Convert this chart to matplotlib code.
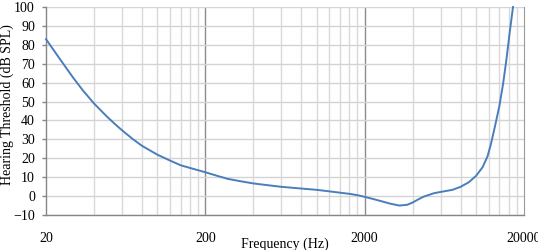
import matplotlib.pyplot as plt
from matplotlib.ticker import FixedLocator, NullFormatter

# hearing threshold curve
freq = [20, 24.3, 29.5, 34, 40, 47.9, 54, 60, 70, 80, 100, 120, 140, 160, 180,
        200, 240, 277, 330, 400, 500, 600, 800, 1000, 1200, 1400, 1600, 1800,
        2000, 2250, 2520, 2890, 3300, 3700, 4000, 4350, 4690, 5430, 6000, 7100,
        8000, 9000, 10000, 11000, 11800, 12400, 13100, 14000, 14800, 15500,
        16240, 17060]
threshold = [83.0, 72.8, 62.8, 56.0, 49.0, 42.3, 38.2, 34.8, 30.2, 26.6, 21.9,
             18.8, 16.3, 14.9, 13.7, 12.6, 10.6, 9.1, 7.9, 6.7, 5.7, 4.9, 4.0,
             3.3, 2.5, 1.8, 1.2, 0.5, -0.4, -1.5, -2.6, -4.0, -5.0, -4.6, -3.4,
             -1.7, -0.3, 1.5, 2.2, 3.3, 4.9, 7.3, 10.7, 15.3, 21.0, 27.5, 36.3,
             47.5, 59.6, 72.0, 86.1, 100.0]

xticks = [20, 200, 2000, 20000]
yticks = list(range(-10, 101, 10))

plt.rcParams['font.family'] = ['Liberation Serif', 'DejaVu Serif']

fig = plt.figure(figsize=(5.38, 2.5), dpi=100)
ax = fig.add_axes([46/538, 35/250, 478/538, 208/250])

ax.set_xscale('log')
ax.set_xlim(20, 20000)
ax.set_ylim(-10, 100)

minor = [k * d for d in (20, 200, 2000) for k in range(2, 10)]
ax.xaxis.set_major_locator(FixedLocator(xticks))
ax.xaxis.set_minor_locator(FixedLocator(minor))
ax.xaxis.set_minor_formatter(NullFormatter())
ax.set_xticks(xticks)
ax.set_xticklabels([str(t) for t in xticks])
ax.set_yticks(yticks)

ax.grid(True, axis='y', color='#d4d4d4', lw=1.0, zorder=0)
ax.grid(True, axis='x', which='minor', color='#d9d9d9', lw=1.0, zorder=0)
for f in (200, 2000):
    ax.axvline(f, color='#8c8c8c', lw=1.0, zorder=1)

ax.plot(freq, threshold, color='#4a7ebb', lw=1.4, zorder=3, clip_on=False,
        solid_joinstyle='round')

for s in ('left', 'bottom'):
    ax.spines[s].set_color('#868686')
    ax.spines[s].set_linewidth(1.0)
ax.spines['right'].set_color('#9a9a9a')
ax.spines['top'].set_visible(False)

ax.tick_params(axis='y', length=3, width=1, color='#868686', pad=5, labelsize=10)
ax.tick_params(axis='x', which='both', length=0, pad=12, labelsize=10)

fig.text(285/538, 6/250, 'Frequency (Hz)', ha='center', va='center', fontsize=10)
fig.text(7/538, 145/250, 'Hearing Threshold (dB SPL)', rotation=90,
         ha='center', va='center', fontsize=10)

fig.savefig('out.png', dpi=100)
